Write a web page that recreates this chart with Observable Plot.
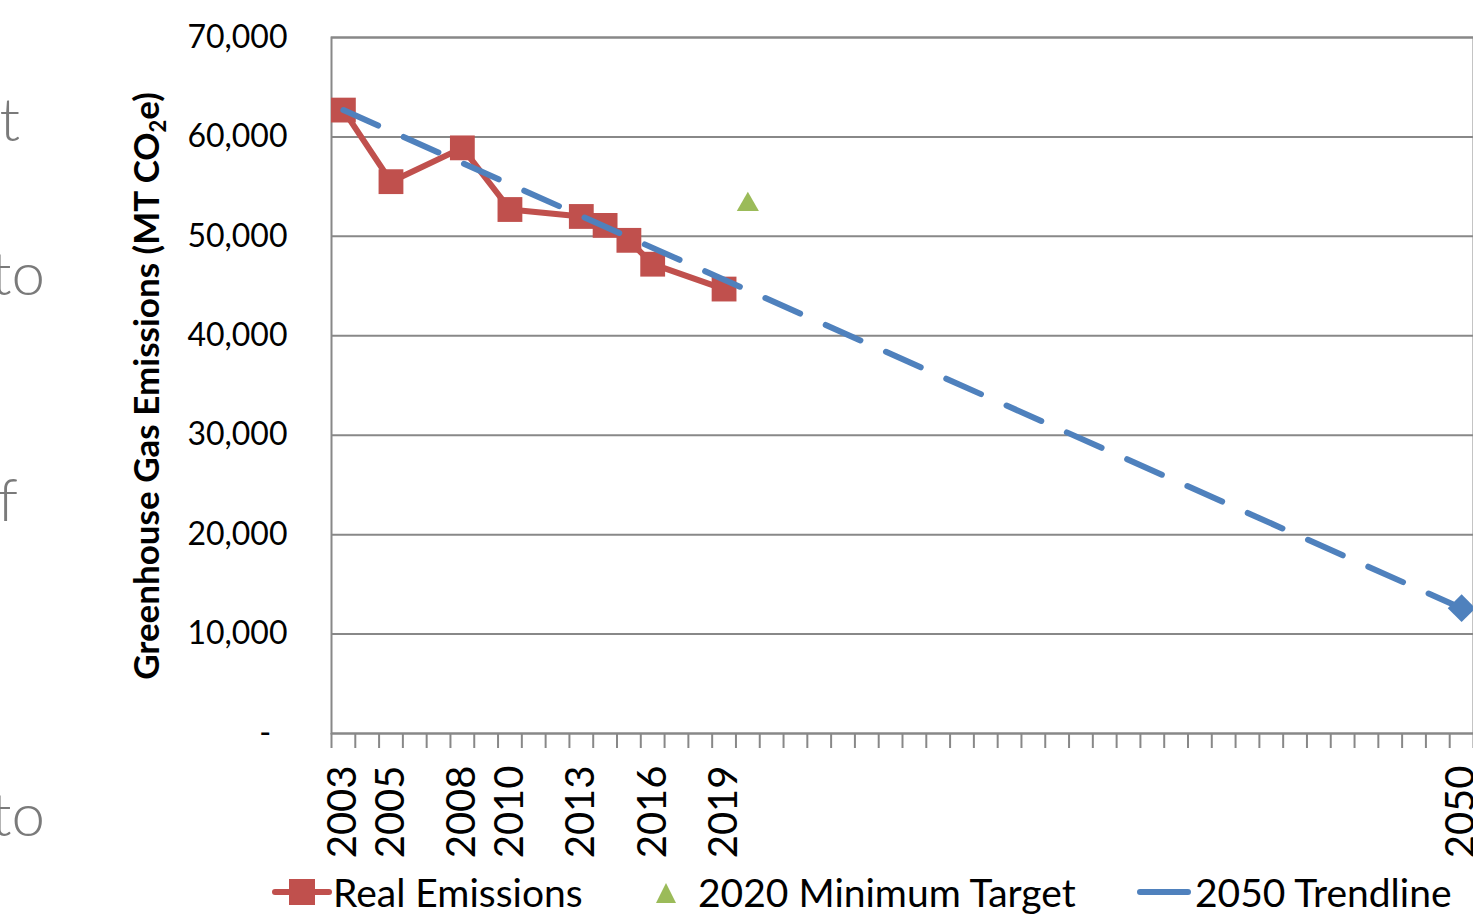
<!DOCTYPE html>
<html>
<head>
<meta charset="utf-8">
<script src="https://cdn.jsdelivr.net/npm/d3@7"></script>
<script src="https://cdn.jsdelivr.net/npm/@observablehq/plot@0.6"></script>
<style>
  html, body { margin: 0; padding: 0; background: #fff; }
  #wrap { position: relative; width: 1473px; height: 914px; overflow: hidden; background: #fff; font-family: Lato, "Open Sans", sans-serif; }
  #chart { position: absolute; left: 0; top: 0; }
  .side { position: absolute; color: #7a7a7a; font-family: Lato, sans-serif; font-weight: 300; font-size: 60px; line-height: 1; white-space: nowrap; }
  .leg { position: absolute; top: 866px; height: 52px; display: flex; align-items: center; font-size: 39px; color: #000; white-space: nowrap; }
  .leg svg { display: block; }
</style>
</head>
<body>
<div id="wrap">
  <div id="chart"></div>
  <div class="side" style="right:1453px; top:88px;">t</div>
  <div class="side" style="right:1428px; top:242px;">to</div>
  <div class="side" style="right:1455px; top:468px;">f</div>
  <div class="side" style="right:1428px; top:783px;">to</div>
  <div id="legend"></div>
</div>
<script>
// ---- data ----
const realYears  = [2003, 2005, 2008, 2010, 2013, 2014, 2015, 2016, 2019];
const realValues = [62700, 55500, 58900, 52700, 52000, 51100, 49600, 47200, 44700];
const targetYears  = [2020];
const targetValues = [53200];
const trendYears  = [2003, 2050];
const trendValues = [62700, 12600];
const markerYears  = [2050];
const markerValues = [12600];
const xLabelYears = [2003, 2005, 2008, 2010, 2013, 2016, 2019, 2050];
const yTicks = [0, 10000, 20000, 30000, 40000, 50000, 60000, 70000];
const firstYear = 2003, lastYear = 2050;
const seriesNames = ["Real Emissions", "2020 Minimum Target", "2050 Trendline"];
const colors = {real: "#C0504D", target: "#9BBB59", trend: "#4F81BD"};

const real = realYears.map((x, i) => ({x, y: realValues[i]}));
const target = targetYears.map((x, i) => ({x, y: targetValues[i]}));
const trend = trendYears.map((x, i) => ({x, y: trendValues[i]}));
const marker = markerYears.map((x, i) => ({x, y: markerValues[i]}));
const boundaries = d3.range(firstYear - 0.5, lastYear + 1, 1);

const chart = Plot.plot({
  width: 1473,
  height: 860,
  marginLeft: 331,
  marginRight: 0,
  marginTop: 37,
  marginBottom: 127,
  style: {fontFamily: "Lato, 'Open Sans', sans-serif", background: "transparent", color: "#000", overflow: "visible"},
  x: {type: "linear", domain: [firstYear - 0.5, lastYear + 0.5]},
  y: {domain: [0, 70000]},
  marks: [
    Plot.gridY(yTicks, {stroke: "#888", strokeOpacity: 1, strokeWidth: 2}),
    Plot.frame({stroke: "#888", strokeWidth: 2}),
    Plot.axisY(yTicks, {tickSize: 0, tickPadding: 44, fontSize: 32, label: null,
      tickFormat: d => d === 0 ? "-\u00a0\u00a0" : d3.format(",")(d)}),
    Plot.axisX(boundaries, {tickSize: 15, tickPadding: 0, tickFormat: () => "", stroke: "#888", strokeWidth: 2, label: null}),
    Plot.axisX(xLabelYears, {tickSize: 0, tickPadding: 32, tickRotate: -90, fontSize: 40, label: null,
      tickFormat: d => String(d)}),
    Plot.line(real, {x: "x", y: "y", stroke: colors.real, strokeWidth: 6}),
    Plot.dot(real, {x: "x", y: "y", symbol: "square", r: 14, fill: colors.real}),
    Plot.line(trend, {x: "x", y: "y", stroke: colors.trend, strokeWidth: 6, strokeDasharray: "38,28", strokeLinecap: "round"}),
    Plot.dot(marker, {x: "x", y: "y", symbol: "diamond2", r: 12.5, fill: colors.trend}),
    Plot.dot(target, {x: "x", y: "y", symbol: "triangle", r: 8.2, fill: colors.target})
  ]
});
document.getElementById("chart").appendChild(chart);

// y-axis title with subscript
const svg = d3.select(chart);
const t = svg.append("text")
  .attr("transform", "translate(159,386) rotate(-90)")
  .attr("text-anchor", "middle")
  .attr("font-family", "Lato, 'Open Sans', sans-serif")
  .attr("font-weight", "bold")
  .attr("font-size", 35)
  .attr("fill", "#000");
t.append("tspan").text("Greenhouse Gas Emissions (MT CO");
t.append("tspan").attr("font-size", 22).attr("dy", 7).text("2");
t.append("tspan").attr("dy", -7).text("e)");

// legend
const legend = document.getElementById("legend");
function item(left, iconSvg, label) {
  const d = document.createElement("div");
  d.className = "leg";
  d.style.left = left + "px";
  d.innerHTML = iconSvg + "<span>" + label + "</span>";
  legend.appendChild(d);
}
item(272, `<svg width="61" height="30"><line x1="3" y1="15" x2="57" y2="15" stroke="${colors.real}" stroke-width="6" stroke-linecap="round"/><rect x="17" y="2" width="26" height="26" fill="${colors.real}"/></svg>`, seriesNames[0]);
item(650, `<svg width="48" height="30"><path d="M6,26 L16,6 L26,26 Z" fill="${colors.target}"/></svg>`, seriesNames[1]);
item(1134, `<svg width="61" height="30"><line x1="6" y1="15" x2="54" y2="15" stroke="${colors.trend}" stroke-width="6" stroke-linecap="round"/></svg>`, seriesNames[2]);
</script>
</body>
</html>
